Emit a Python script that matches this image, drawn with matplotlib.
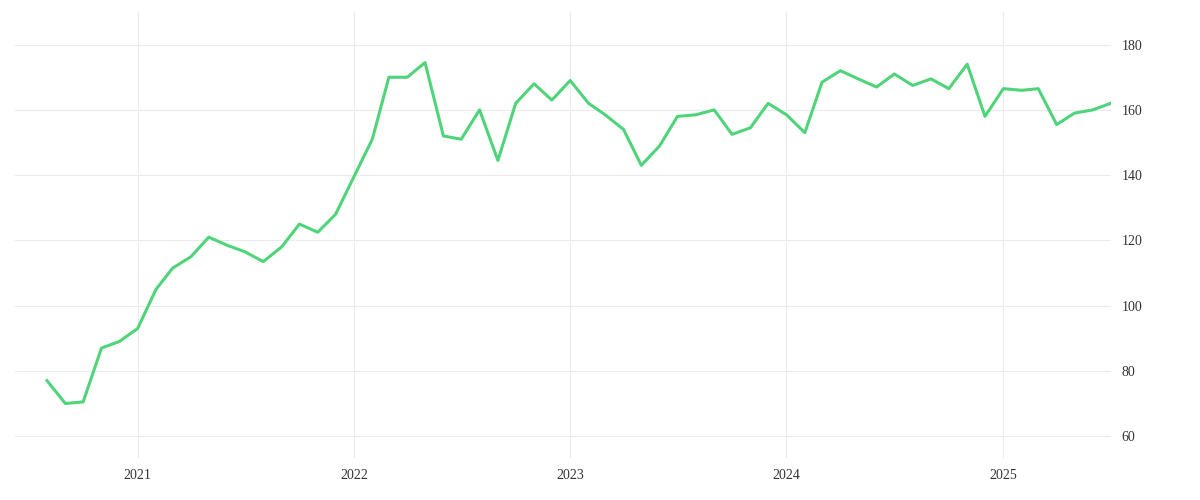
import matplotlib
matplotlib.use("Agg")
import matplotlib.pyplot as plt
import matplotlib.dates as mdates
import pandas as pd

start_month = "2020-08-01"
values = [77, 70, 70.5, 87, 89, 93, 105, 111.5, 115, 121, 118.5, 116.5, 113.5, 118, 125, 122.5, 128,
          139.5, 151, 170, 170, 174.5, 152, 151, 160, 144.5, 162, 168, 163,
          169, 162, 158.5, 154, 143, 149, 158, 158.5, 160, 152.5, 154.5, 162,
          158.5, 153, 168.5, 172, 169.5, 167, 171, 167.5, 169.5, 166.5, 174, 158,
          166.5, 166, 166.5, 155.5, 159, 160, 162]
y_ticks = [60, 80, 100, 120, 140, 160, 180]
x_ticks = ["2021-01-01", "2022-01-01", "2023-01-01", "2024-01-01", "2025-01-01"]
x_labels = ["2021", "2022", "2023", "2024", "2025"]

dates = pd.date_range(start_month, periods=len(values), freq="MS")

plt.rcParams["font.family"] = "Liberation Serif"
fig = plt.figure(figsize=(12, 5), dpi=100)
ax = fig.add_axes([0.0125, 0.084, 0.913, 0.892])
ax.plot(dates, values, color="#4fd47a", lw=2.2)
ax.set_xlim(pd.Timestamp("2020-06-08"), pd.Timestamp("2025-07-01"))
ax.set_ylim(53.3, 190)
ax.yaxis.tick_right()
ax.set_yticks(y_ticks)
ax.set_xticks(pd.to_datetime(x_ticks))
ax.set_xticklabels(x_labels)
ax.grid(True, color="#ebebeb", lw=0.8)
for s in ax.spines.values():
    s.set_visible(False)
ax.axhline(53.3, color="#e0e0e0", lw=0.8)
ax.tick_params(length=0, labelsize=10, colors="#333333", pad=8)
fig.savefig("out.png", dpi=100, facecolor="white")
